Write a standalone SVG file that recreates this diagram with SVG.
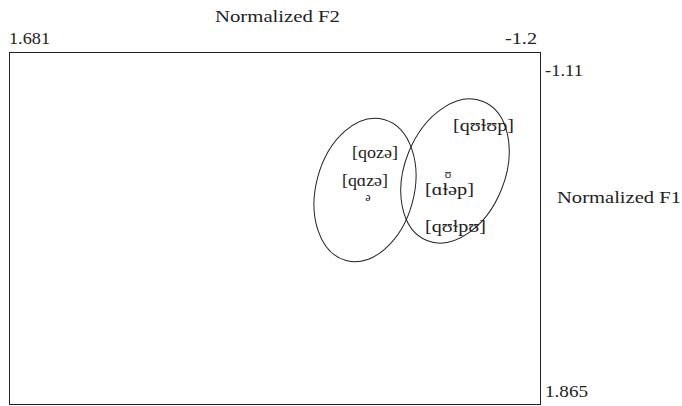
<svg xmlns="http://www.w3.org/2000/svg" width="682" height="406" viewBox="0 0 682 406">
<style>
text{font-family:"Liberation Serif","Times New Roman",Times,"DejaVu Serif","Noto Serif",serif;font-size:17px;fill:#222}
.sm{font-size:12px}
.shape{fill:none;stroke:#222;stroke-width:1}
</style>
<rect x="0" y="0" width="682" height="406" fill="#fff"/>
<g id="frame">
<rect class="shape" x="9.5" y="52.5" width="531" height="352"/>
</g>
<g id="axis-labels">
<text x="215" y="22" textLength="125" lengthAdjust="spacingAndGlyphs">Normalized F2</text>
<text x="9" y="44" textLength="41" lengthAdjust="spacingAndGlyphs">1.681</text>
<text x="505" y="44" textLength="32" lengthAdjust="spacingAndGlyphs">-1.2</text>
<text x="545" y="76" textLength="38" lengthAdjust="spacingAndGlyphs">-1.11</text>
<text x="557" y="203" textLength="124" lengthAdjust="spacingAndGlyphs">Normalized F1</text>
<text x="545" y="397" textLength="43" lengthAdjust="spacingAndGlyphs">1.865</text>
</g>
<g id="connectors">
<ellipse id="cluster-left" class="shape" cx="365" cy="190" rx="49" ry="73" transform="rotate(15 365 190)"/>
<ellipse id="cluster-right" class="shape" cx="455" cy="171" rx="50" ry="75" transform="rotate(22 455 171)"/>
</g>
<g id="n-qoze"><text x="352" y="158" textLength="46" lengthAdjust="spacingAndGlyphs">[qozə]</text></g>
<g id="n-qaze"><text x="342" y="186" textLength="46" lengthAdjust="spacingAndGlyphs">[qɑzə]</text><text class="sm" x="368" y="201" text-anchor="middle">ə</text></g>
<g id="n-qulup"><text x="453" y="131" textLength="61" lengthAdjust="spacingAndGlyphs">[qʊɫʊp]</text></g>
<g id="n-alep"><text x="425" y="195" textLength="49" lengthAdjust="spacingAndGlyphs">[ɑɫəp]</text><text class="sm" x="448" y="178" text-anchor="middle">ʊ</text></g>
<g id="n-qulpu"><text x="425" y="232" textLength="61" lengthAdjust="spacingAndGlyphs">[qʊɫpʊ]</text></g>
</svg>
